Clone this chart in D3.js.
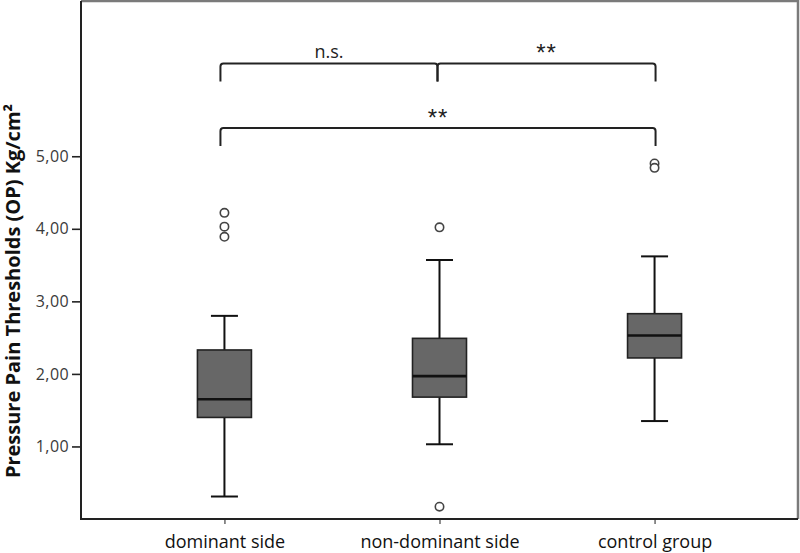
<!DOCTYPE html>
<meta charset="utf-8">
<script src="https://d3js.org/d3.v7.min.js"></script>
<style>
  body { margin: 0; background: #fff; }
  text { font-family: "Open Sans", sans-serif; }
</style>
<svg id="chart" width="800" height="553"></svg>
<script>

// data
var groups = ["dominant side", "non-dominant side", "control group"];
var lowWhisker = [0.31, 1.03, 1.35];
var q1 = [1.40, 1.68, 2.22];
var median = [1.65, 1.97, 2.53];
var q3 = [2.33, 2.49, 2.83];
var highWhisker = [2.80, 3.57, 3.62];
var outliers = [[4.22, 4.03, 3.89], [4.02, 0.17], [4.90, 4.84]];
var yTicks = [1, 2, 3, 4, 5];

// significance brackets
var bracketFrom = [0, 1, 0];
var bracketTo = [1, 2, 2];
var bracketLevel = [6.28, 6.28, 5.39];
var bracketLabel = ["n.s.", "**", "**"];

var svg = d3.select("#chart");
var plotL = 81, plotR = 798, plotT = 1, plotB = 519;

var x = d3.scalePoint().domain(d3.range(groups.length)).range([plotL, plotR]).padding(0.667);
var y = d3.scaleLinear().domain([0, 7.14]).range([plotB, plotT]);

var boxW = 54, capW = 27;

// frame: top and right gray
svg.append("path")
  .attr("d", "M" + plotL + "," + plotT + "H" + plotR + "V" + plotB)
  .attr("fill", "none").attr("stroke", "#7a7a7a").attr("stroke-width", 2.5);

// y axis
var yAxis = svg.append("g")
  .attr("transform", "translate(" + plotL + ",0)")
  .call(d3.axisLeft(y).tickValues(yTicks).tickSize(9).tickPadding(3)
    .tickFormat(function(d) { return d3.format(".2f")(d).replace(".", ","); }));
yAxis.select(".domain").remove();
yAxis.selectAll("line").attr("stroke", "#222").attr("stroke-width", 1.6);
yAxis.selectAll("text").attr("font-size", 16).attr("fill", "#3a3a3a").attr("letter-spacing", 0.4)
  .style("font-family", "'Open Sans', sans-serif");

// x axis
var xAxis = svg.append("g")
  .attr("transform", "translate(0," + plotB + ")")
  .call(d3.axisBottom(x).tickSize(5).tickPadding(11).tickFormat(function(i) { return groups[i]; }));
xAxis.select(".domain").remove();
xAxis.selectAll("line").attr("stroke", "#444").attr("stroke-width", 1.2);
xAxis.selectAll("text").attr("font-size", 18).attr("fill", "#111")
  .style("font-family", "'Open Sans', sans-serif");

// left and bottom axis lines
svg.append("path")
  .attr("d", "M" + plotL + "," + plotT + "V" + plotB + "H" + plotR)
  .attr("fill", "none").attr("stroke", "#222").attr("stroke-width", 2);

// y label
svg.append("text")
  .attr("transform", "translate(20," + ((plotB + plotT) / 2 + 31) + ") rotate(-90)")
  .attr("text-anchor", "middle")
  .attr("font-size", 20).attr("font-weight", "bold").attr("fill", "#111")
  .text("Pressure Pain Thresholds (OP) Kg/cm²");

// boxes
var g = svg.append("g");
groups.forEach(function(name, i) {
  var cx = x(i);
  // whiskers
  g.append("line").attr("x1", cx).attr("x2", cx).attr("y1", y(highWhisker[i])).attr("y2", y(q3[i]))
    .attr("stroke", "#111").attr("stroke-width", 2);
  g.append("line").attr("x1", cx).attr("x2", cx).attr("y1", y(q1[i])).attr("y2", y(lowWhisker[i]))
    .attr("stroke", "#111").attr("stroke-width", 2);
  [highWhisker[i], lowWhisker[i]].forEach(function(v) {
    g.append("line").attr("x1", cx - capW / 2).attr("x2", cx + capW / 2).attr("y1", y(v)).attr("y2", y(v))
      .attr("stroke", "#111").attr("stroke-width", 2);
  });
  g.append("rect")
    .attr("x", cx - boxW / 2).attr("width", boxW)
    .attr("y", y(q3[i])).attr("height", y(q1[i]) - y(q3[i]))
    .attr("fill", "#676767").attr("stroke", "#222").attr("stroke-width", 1.6);
  g.append("line").attr("x1", cx - boxW / 2).attr("x2", cx + boxW / 2)
    .attr("y1", y(median[i])).attr("y2", y(median[i]))
    .attr("stroke", "#111").attr("stroke-width", 2.6);
  g.selectAll(null).data(outliers[i]).enter().append("circle")
    .attr("cx", cx).attr("cy", function(d) { return y(d); }).attr("r", 4.2)
    .attr("fill", "#fff").attr("stroke", "#444").attr("stroke-width", 1.6);
});

// brackets
var drop = 18, rad = 3;
bracketFrom.forEach(function(f, k) {
  var x1 = x(f) - 4, x2 = x(bracketTo[k]) + 1, yy = y(bracketLevel[k]);
  if (f === 1) x1 = x(f) - 2;
  if (bracketTo[k] === 1) x2 = x(1) - 2;
  var stars = bracketLabel[k] === "**";
  svg.append("path")
    .attr("d", "M" + x1 + "," + (yy + drop) + "V" + (yy + rad) + "Q" + x1 + "," + yy + " " + (x1 + rad) + "," + yy +
      "H" + (x2 - rad) + "Q" + x2 + "," + yy + " " + x2 + "," + (yy + rad) + "V" + (yy + drop))
    .attr("fill", "none").attr("stroke", "#222").attr("stroke-width", 2);
  svg.append("text")
    .attr("x", (x1 + x2) / 2).attr("y", stars ? yy - 2 : yy - 5)
    .attr("text-anchor", "middle").attr("font-size", stars ? 24 : 18).attr("fill", "#222")
    .style("font-family", stars ? "'Liberation Sans', sans-serif" : "'Open Sans', sans-serif")
    .attr("letter-spacing", stars ? 1 : 0)
    .text(bracketLabel[k]);
});

</script>
